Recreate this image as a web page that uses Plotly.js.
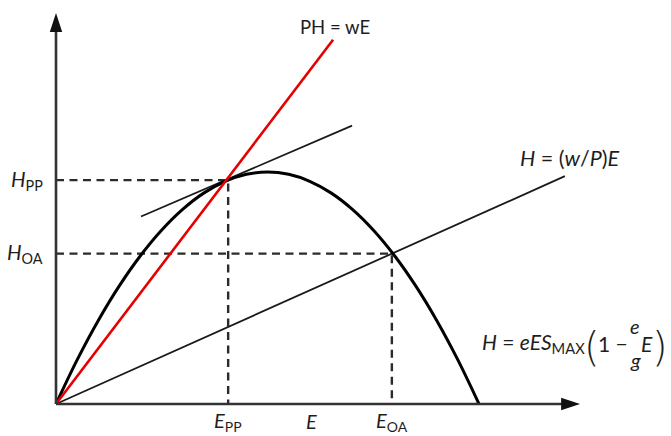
<!DOCTYPE html>
<html>
<head>
<meta charset="utf-8">
<script src="https://cdn.plot.ly/plotly-3.0.1.min.js"></script>
<style>
  html, body { margin: 0; padding: 0; background: #fff; }
  #chart { width: 671px; height: 436px; }
</style>
</head>
<body>
<div id="chart"></div>
<script>
// Sustainable yield curve H = eES_MAX(1 - (e/g)E), sampled along effort E
const effort = [0, 0.5, 1, 1.5, 2, 2.5, 3, 3.5, 4, 4.5, 5, 5.5, 6, 6.5, 7, 7.5, 8, 8.5, 9, 9.5, 10];
const harvest = [0, 1.9, 3.6, 5.1, 6.4, 7.5, 8.4, 9.1, 9.6, 9.9, 10, 9.9, 9.6, 9.1, 8.4, 7.5, 6.4, 5.1, 3.6, 1.9, 0];

// Revenue/cost ray PH = wE
const costE = [0, 6.55];
const costH = [0, 15.7];

// Ray H = (w/P)E
const wageE = [0, 12.03];
const wageH = [0, 9.82];

// Tangent to the yield curve at the private-property optimum
const tangentE = [2.01, 7.0];
const tangentH = [8.08, 12.0];

// Equilibria
const E_PP = 4.07, H_PP = 9.65;   // private property
const E_OA = 7.94, H_OA = 6.48;   // open access

// Axis extents (arrow tips)
const E_AXIS_END = 12.39;
const H_AXIS_END = 16.85;

// Axis scaling: pixels per data unit and origin position on the page
const W = 671, Hgt = 436;
const X0 = 56, Y0 = 404, SX = 42.3, SY = 23.2;
const dx = px => px / SX;           // pixel length -> E units
const dy = px => px / SY;           // pixel length -> H units
const atX = px => (px - X0) / SX;   // page x -> E
const atY = py => (Y0 - py) / SY;   // page y -> H

const INK = '#1a1a1a';
const DASHC = '#2b2b2b';
const FONT = 'Lato, "Open Sans", "DejaVu Sans", sans-serif';
const TXT = '#1e1e1e';

const traces = [
  // dashed guides
  { x: [0, E_PP, E_PP], y: [H_PP, H_PP, 0], mode: 'lines',
    line: { color: DASHC, width: 2.4, dash: '8px,5.5px' } },
  { x: [0, E_OA, E_OA], y: [H_OA, H_OA, 0], mode: 'lines',
    line: { color: DASHC, width: 2.4, dash: '8px,5.5px' } },
  // rays and tangent
  { x: wageE, y: wageH, mode: 'lines', line: { color: INK, width: 1.8 } },
  { x: tangentE, y: tangentH, mode: 'lines', line: { color: INK, width: 1.8 } },
  // yield curve
  { x: effort, y: harvest, mode: 'lines', line: { color: '#000', width: 3, shape: 'spline' } },
  // PH = wE
  { x: costE, y: costH, mode: 'lines', line: { color: '#e60000', width: 2.6 } }
];

// Axes with arrow heads
const headLen = 19, headHalf = 6.2;
const shapes = [
  { type: 'line', x0: 0, y0: 0, x1: E_AXIS_END - dx(headLen - 2), y1: 0,
    line: { color: '#333', width: 2.6 } },
  { type: 'line', x0: 0, y0: 0, x1: 0, y1: H_AXIS_END - dy(headLen - 2),
    line: { color: '#333', width: 2.6 } },
  { type: 'path', fillcolor: '#111', line: { width: 0 },
    path: `M ${E_AXIS_END} 0 L ${E_AXIS_END - dx(headLen)} ${dy(headHalf)} L ${E_AXIS_END - dx(headLen)} ${-dy(headHalf)} Z` },
  { type: 'path', fillcolor: '#111', line: { width: 0 },
    path: `M 0 ${H_AXIS_END} L ${dx(headHalf)} ${H_AXIS_END - dy(headLen)} L ${-dx(headHalf)} ${H_AXIS_END - dy(headLen)} Z` }
];

const lab = (text, x, y, size, extra) => Object.assign({
  text, x, y, xref: 'x', yref: 'y', showarrow: false,
  font: { family: FONT, size: size, color: TXT }
}, extra || {});

const PAREN_FONT = { family: '"DejaVu Sans", sans-serif', size: 40, color: TXT, weight: 200 };

const annotations = [
  lab('<i>H</i><sub>PP</sub>', atX(45), H_PP, 20.5, { xanchor: 'right' }),
  lab('<i>H</i><sub>OA</sub>', atX(45), H_OA, 20.5, { xanchor: 'right' }),
  lab('<i>E</i><sub>PP</sub>', E_PP, atY(421), 20),
  lab('<i>E</i>', atX(311), atY(421), 20),
  lab('<i>E</i><sub>OA</sub>', E_OA, atY(421), 20),
  lab('PH = wE', atX(335), atY(27), 18.5),
  lab('<i>H</i> = (<i>w</i>/<i>P</i>)<i>E</i>', atX(570), atY(158), 21.5),
  // H = eES_MAX(1 - (e/g)E)
  lab('<i>H</i> = <i>eES</i><sub>MAX</sub>', atX(587), atY(343), 21, { xanchor: 'right' }),
  lab('(', atX(591.5), atY(347), 40, { font: PAREN_FONT }),
  lab('1 \u2212', atX(613), atY(343), 21),
  lab('<i>e</i>', atX(635), atY(326), 20),
  lab('<i>g</i>', atX(635), atY(360), 20),
  lab('<i>E</i>', atX(647), atY(343), 21),
  lab(')', atX(660), atY(347), 40, { font: PAREN_FONT })
];

const layout = {
  width: W, height: Hgt,
  margin: { l: 0, r: 0, t: 0, b: 0 },
  paper_bgcolor: '#fff', plot_bgcolor: '#fff',
  showlegend: false, hovermode: false,
  xaxis: { range: [atX(0), atX(W)], visible: false, fixedrange: true },
  yaxis: { range: [atY(Hgt), atY(0)], visible: false, fixedrange: true },
  shapes, annotations
};

Plotly.newPlot('chart', traces, layout, { staticPlot: true, displayModeBar: false });
</script>
</body>
</html>
